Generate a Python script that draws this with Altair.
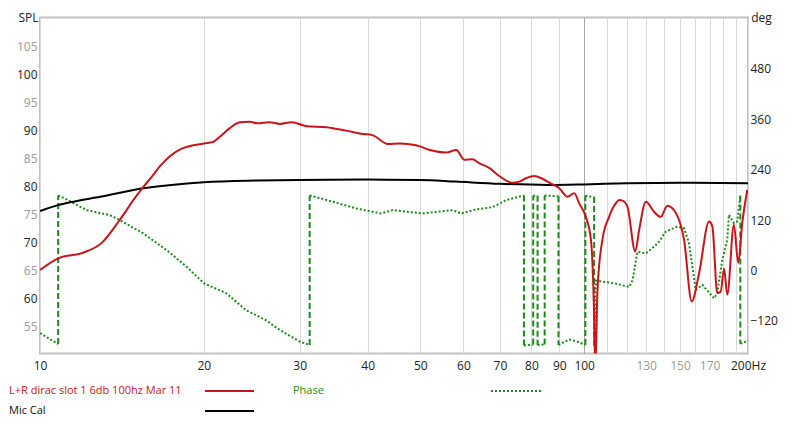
import altair as alt
import pandas as pd

# ---------------- data ----------------
# L+R dirac slot 1 6db 100hz Mar 11 (SPL, dB)
red_freq = [10, 10.8, 12.0, 13.0, 14.0, 15.0, 15.5, 16.0, 16.6, 18.06, 20.0, 20.8, 21.4, 22.3, 23.3,
            24.3, 25.1, 26.4, 27.6, 29.0, 30.9, 33.6, 36.5, 39.2, 40.8, 43.6, 45.8, 49.1, 52.0,
            55.8, 58.2, 60.2, 62.3, 64.1, 67.0, 69.8, 73.8, 76.0, 78.2, 80.9, 83.8, 86.3, 90.0,
            93.2, 95.9, 97.9, 100.7, 102.9, 104.3, 104.8, 105.8, 108.0, 111.1, 114.3, 115.9,
            117.6, 120.1, 124.1, 126.2, 129.8, 134.4, 138.2, 142.2, 147.4, 152.6, 157.6, 162.6,
            169.6, 172.0, 175.6, 178.2, 180.7, 183.2, 188.4, 191.9, 195.2, 199.4]
red_spl = [65.1, 67.2, 68.2, 70.0, 74.0, 78.2, 80.0, 81.6, 83.6, 86.6, 87.7, 88.0, 88.9, 90.4, 91.5,
           91.6, 91.3, 91.5, 91.2, 91.5, 90.8, 90.6, 90.0, 89.4, 89.2, 87.6, 87.7, 87.4, 86.55,
           86.1, 86.55, 84.8, 84.9, 84.2, 83.3, 81.9, 80.7, 80.9, 81.5, 81.9, 81.4, 80.7, 79.7,
           78.2, 78.8, 77.0, 74.6, 70.5, 56.8, 47.0, 61.6, 70.5, 74.6, 77.0, 77.6,
           77.5, 76.4, 68.4, 72.3, 77.3, 75.5, 74.6, 76.6, 75.3, 70.5, 59.5, 64.5,
           73.75, 72.9, 61.0, 61.25, 65.4, 60.7, 73.2, 66.4, 73.5, 79.4]

# Mic Cal (SPL, dB)
cal_freq = [10, 10.8, 11.35, 12.9, 15.5, 20, 25, 30, 40, 50, 58, 70, 86, 100, 120, 150, 200]
cal_spl = [75.65, 76.7, 77.2, 78.2, 79.7, 80.8, 81.1, 81.2, 81.25, 81.2, 80.9, 80.5, 80.3, 80.4,
           80.6, 80.7, 80.6]

# Phase (deg); a repeated frequency marks a wrap
phase_freq = [10, 10.8,
              10.8, 11.1, 12.18, 13.44, 14.03, 15.46, 17.08, 18.6, 20.0, 22.0, 23.9, 26.0, 27.56,
              29.98, 31.3,
              31.3, 34.5, 38.1, 42.3, 44.5, 50.5, 57.4, 59.4, 63.4, 67.9, 71.9, 77.5,
              77.5, 80.6,
              80.6, 82.1,
              82.1, 84.6,
              84.6, 89.7,
              89.7, 93.9, 96.6, 100.5,
              100.5, 104.3,
              104.3, 105.1, 106.5, 114.3, 121.0, 122.7, 125.3, 129.8, 134.4, 137.3, 141.2,
              148.3, 152.6, 155.8, 160.3, 164.9, 173.2, 175.6, 179.4, 183.2, 184.5, 188.4,
              191.1, 193.6,
              193.6, 198.1, 200]
phase_deg = [-149, -175,
             179, 172, 144, 132, 120, 89, 49, 9, -30, -54, -94, -118, -141,
             -169, -177,
             179, 164, 148, 136, 144, 136, 144, 136, 146, 151, 168, 179,
             -178, -176,
             178, 178,
             -177, -176,
             179, 177,
             -177, -164, -168, -177,
             178, 175,
             -178, -24, -25, -31, -39, -23, 45, 41, 57, 69, 93,
             105, 101, 65, -46, -34, -66, -54, 25, 73, 133, 113,
             117, 179,
             -174, -169, -166]

x_ticks = [10, 20, 30, 40, 50, 60, 70, 80, 90, 100, 110, 120, 130, 140, 150, 160, 170, 180, 190, 200]
spl_ticks = list(range(51, 111))
deg_ticks = [-120, 0, 120, 240, 360, 480]

legend_red = "L+R dirac slot 1 6db 100hz Mar 11"
legend_phase = "Phase"
legend_cal = "Mic Cal"

RED = "#c8141a"
GREEN = "#1b8a1b"
BLACK = "#000000"
FONT = "Open Sans"

# ---------------- tables ----------------
red_df = pd.DataFrame({"f": red_freq, "v": red_spl})
cal_df = pd.DataFrame({"f": cal_freq, "v": cal_spl})

seg_ids, wraps = [], []
seg = 0
for i, (f, d) in enumerate(zip(phase_freq, phase_deg)):
    if i > 0 and f == phase_freq[i - 1] and abs(d - phase_deg[i - 1]) > 300:
        seg += 1
        wraps.append({"f": f, "d1": phase_deg[i - 1], "d2": d})
    seg_ids.append(seg)
phase_df = pd.DataFrame({"f": phase_freq, "p": phase_deg, "seg": seg_ids, "o": range(len(phase_freq))})
wrap_df = pd.DataFrame(wraps)

# ---------------- encodings ----------------
x_scale = alt.Scale(type="log", domain=[10, 200], nice=False)
x_axis = alt.Axis(
    values=x_ticks, title=None, tickSize=0, domain=False, labelFlush=False, labelOverlap=False,
    labelPadding=7, labelFont=FONT, labelFontSize=12,
    labelExpr="datum.value == 200 ? '200Hz' : ((datum.value <= 100 || datum.value == 130 || datum.value == 150 || datum.value == 170) ? datum.label : '')",
    labelColor={"condition": {"test": "datum.value == 130 || datum.value == 150 || datum.value == 170", "value": "#9a9a9a"}, "value": "#222222"},
    gridColor={"condition": {"test": "datum.value == 100", "value": "#a8a8a8"}, "value": "#dadada"},
    gridWidth=1,
)


def X():
    return alt.X("f:Q", scale=x_scale, axis=x_axis)


spl_scale = alt.Scale(domain=[50.2, 110.2], nice=False, zero=False)
spl_axis = alt.Axis(
    values=spl_ticks, orient="left", tickSize=0, domain=False, labelPadding=3,
    labelFont=FONT, labelFontSize=12,
    labelExpr="(datum.value % 5 == 0 && datum.value <= 105) ? datum.label : ''",
    labelColor={"condition": {"test": "datum.value % 10 == 0", "value": "#222222"}, "value": "#9a9a9a"},
    gridColor={"condition": {"test": "datum.value % 5 == 0", "value": "#d6d6d6"}, "value": "#e6e6e6"},
    title="SPL", titleAngle=0, titleAlign="center", titleBaseline="middle",
    titleX=-12, titleY=-0.5, titleFont=FONT, titleFontSize=12, titleFontWeight="normal",
    titleColor="#222222",
)

deg_scale = alt.Scale(domain=[-197.4, 602.6], nice=False, zero=False)
deg_axis = alt.Axis(
    values=deg_ticks, orient="right", tickSize=0, domain=False, grid=False, labelPadding=2,
    labelFont=FONT, labelFontSize=12, labelColor="#222222",
    title="deg", titleAngle=0, titleAlign="center", titleBaseline="middle",
    titleX=13, titleY=-0.5, titleFont=FONT, titleFontSize=12, titleFontWeight="normal",
    titleColor="#222222",
)

phase_line = alt.Chart(phase_df).mark_line(
    color=GREEN, strokeWidth=2, strokeDash=[2, 2], clip=True
).encode(
    x=X(), y=alt.Y("p:Q", scale=deg_scale, axis=deg_axis), detail="seg:N", order="o:Q"
)
wrap_rules = alt.Chart(wrap_df).mark_rule(
    color=GREEN, strokeWidth=2, strokeDash=[6, 3], clip=True
).encode(
    x=X(), y=alt.Y("d1:Q", scale=deg_scale, axis=deg_axis), y2="d2:Q"
)
phase_group = alt.layer(phase_line, wrap_rules)

cal_line = alt.Chart(cal_df).mark_line(color=BLACK, strokeWidth=2, interpolate="monotone", clip=True).encode(
    x=X(), y=alt.Y("v:Q", scale=spl_scale, axis=spl_axis)
)
red_line = alt.Chart(red_df).mark_line(color=RED, strokeWidth=2, interpolate="monotone", clip=True).encode(
    x=X(), y=alt.Y("v:Q", scale=spl_scale, axis=spl_axis)
)
spl_group = alt.layer(cal_line, red_line)

one = pd.DataFrame({"k": [0]})
LY1, LY2 = 373.5, 393.5
leg = [
    alt.Chart(one).mark_text(text=legend_red, color=RED, align="left", baseline="middle",
                             font=FONT, fontSize=11).encode(x=alt.value(-31), y=alt.value(LY1)),
    alt.Chart(one).mark_rule(color=RED, strokeWidth=2).encode(
        x=alt.value(165), x2=alt.value(214), y=alt.value(LY1)),
    alt.Chart(one).mark_text(text=legend_phase, color=GREEN, align="left", baseline="middle",
                             font=FONT, fontSize=11).encode(x=alt.value(253), y=alt.value(LY1)),
    alt.Chart(one).mark_rule(color=GREEN, strokeWidth=2, strokeDash=[2, 2]).encode(
        x=alt.value(451), x2=alt.value(501), y=alt.value(LY1)),
    alt.Chart(one).mark_text(text=legend_cal, color="#111111", align="left", baseline="middle",
                             font=FONT, fontSize=11).encode(x=alt.value(-31), y=alt.value(LY2)),
    alt.Chart(one).mark_rule(color=BLACK, strokeWidth=2).encode(
        x=alt.value(165), x2=alt.value(214), y=alt.value(LY2)),
]

chart = alt.layer(phase_group, spl_group, *leg).resolve_scale(y="independent").properties(
    width=708, height=336,
    autosize=alt.AutoSizeParams(type="none"),
    padding={"left": 32, "top": 9.5, "right": 44, "bottom": 64},
    background="white",
).configure_view(stroke="#c2c2c2", strokeWidth=2)

chart.save("out.html", embed_options={"renderer": "svg", "actions": False})
